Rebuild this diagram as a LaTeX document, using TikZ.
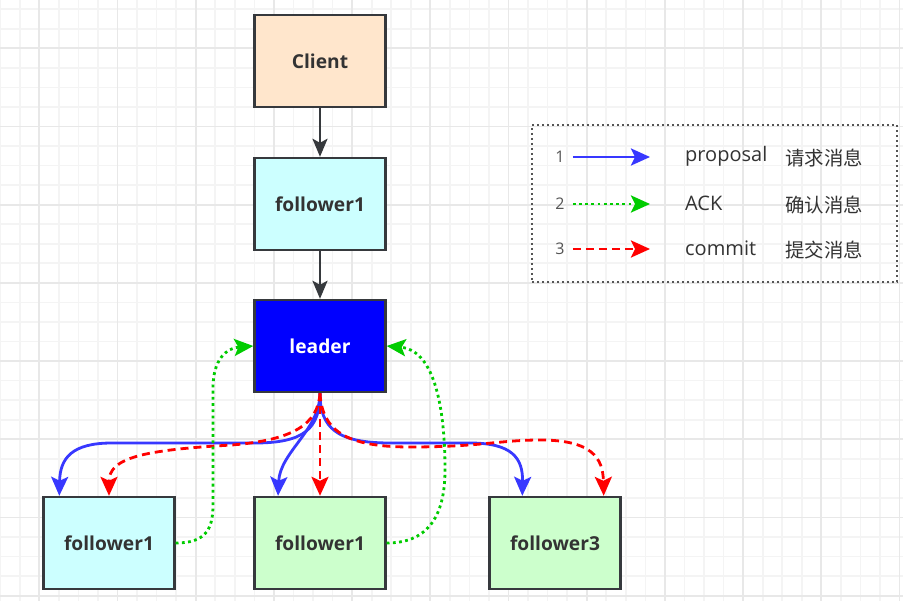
\documentclass[tikz,border=0pt]{standalone}
\usepackage{fontspec}
\setmainfont{Open Sans}
\newfontfamily\cjk{Noto Sans CJK SC}
\usetikzlibrary{arrows.meta}
\definecolor{gridmin}{HTML}{F4F4F4}
\definecolor{gridmaj}{HTML}{E8E8E8}
\definecolor{boxline}{HTML}{36393D}
\definecolor{clientfill}{HTML}{FFE6CC}
\definecolor{cyanfill}{HTML}{CCFFFF}
\definecolor{greenfill}{HTML}{CCFFCC}
\definecolor{propblue}{HTML}{3838FF}
\definecolor{ackgreen}{HTML}{00CC00}
\definecolor{txtgray}{HTML}{333333}
\definecolor{numgray}{HTML}{555555}
\tikzset{
	box/.style={draw=boxline,line width=2.4pt,minimum width=131pt,minimum height=92pt,inner sep=0pt,text=txtgray,font=\fontsize{19.2}{21}\selectfont\bfseries},
	bigtip/.style={-{Stealth[length=19pt,width=17pt,inset=4pt]}},
	flow/.style={draw=boxline,line width=2.4pt,-{Stealth[length=18pt,width=15pt,inset=4pt]}},
	proposal/.style={bigtip,draw=propblue,line width=2.8pt},
	ack/.style={bigtip,draw=ackgreen,line width=2.8pt,dash pattern=on 2.8pt off 3.4pt},
	commit/.style={bigtip,draw=red,line width=2.8pt,dash pattern=on 8pt off 5pt},
	legtext/.style={anchor=west,text=txtgray,inner sep=0pt,font=\fontsize{20}{22}\selectfont},
	legcjk/.style={anchor=west,text=txtgray,inner sep=0pt,font=\fontsize{19.4}{21}\selectfont\cjk},
	legnum/.style={text=numgray,inner sep=0pt,font=\fontsize{16}{18}\selectfont}
}
\begin{document}
\begin{tikzpicture}[x=1pt,y=-1pt]
			\useasboundingbox (0,0) rectangle (903,601);
			% grid
			\fill[white] (0,0) rectangle (903,601);
			\foreach \x in {0.2,19.75,...,903} \draw[gridmin,line width=1.7pt] (\x,0) -- (\x,601);
			\foreach \y in {9.2,28.75,...,601} \draw[gridmin,line width=1.7pt] (0,\y) -- (903,\y);
			\foreach \x in {39.3,117.5,...,903} \draw[gridmaj,line width=1.7pt] (\x,0) -- (\x,601);
			\foreach \y in {48.3,126.5,...,601} \draw[gridmaj,line width=1.7pt] (0,\y) -- (903,\y);
			% boxes
			\node[box,fill=clientfill] (client) at (320,61) {Client};
			\node[box,fill=cyanfill] (fone) at (320,204) {follower1};
			\node[box,fill=blue,text=white] (leader) at (320,346) {leader};
			\node[box,fill=cyanfill] (fleft) at (109,543) {follower1};
			\node[box,fill=greenfill] (fmid) at (320,543) {follower1};
			\node[box,fill=greenfill] (fright) at (555,543) {follower3};
			% request path
			\draw[flow] (client) -- (fone);
			\draw[flow] (fone) -- (leader);
			% proposal
			\draw[proposal] (leader.south) .. controls (320,428) and (305,443) .. (255,443) -- (112,443) .. controls (72,443) and (60,458) .. ([xshift=17pt]fleft.north west);
			\draw[proposal] (leader.south) .. controls (320,430) and (280,452) .. ([xshift=-42pt]fmid.north);
			\draw[proposal] (leader.south) .. controls (320,428) and (337,443) .. (390,443) -- (470,443) .. controls (512,443) and (523,458) .. ([xshift=34pt]fright.north west);
			% commit
			\draw[commit] (leader.south) .. controls (318,425) and (292,440) .. (232,445) .. controls (142,450) and (109,458) .. (fleft.north);
			\draw[commit] (leader.south) -- (fmid.north);
			\draw[commit] (leader.south) .. controls (322,430) and (345,447) .. (410,447) .. controls (480,447) and (500,440) .. (540,440) .. controls (592,440) and (603,458) .. ([xshift=-18pt]fright.north east);
			% ack
			\draw[ack] (fleft.east) .. controls (205,543) and (213,530) .. (213,505) -- (213,388) .. controls (213,360) and (226,348) .. (leader.west);
			\draw[ack] (fmid.east) .. controls (425,543) and (445,520) .. (445,470) .. controls (445,400) and (432,350) .. (leader.east);
			% legend
			\node[draw=numgray,line width=2pt,dash pattern=on 2pt off 3pt,minimum width=365pt,minimum height=157pt,inner sep=0pt] (legend) at (714.5,203.5) {};
			\node[legnum] (n1) at (560,157) {1};
			\node[legnum] (n2) at (560,204) {2};
			\node[legnum] (n3) at (560,249) {3};
			\coordinate (e1) at (650,157);
			\coordinate (e2) at (650,204);
			\coordinate (e3) at (650,249);
			\draw[proposal] ([xshift=8pt]n1.east) -- (e1);
			\draw[ack] ([xshift=8pt]n2.east) -- (e2);
			\draw[commit] ([xshift=8pt]n3.east) -- (e3);
			\node[legtext] (l1) at (685,156) {proposal};
			\node[legtext] (l2) at (685,203) {ACK};
			\node[legtext] (l3) at (685,248) {commit};
			\node[legcjk] (c1) at (785,158) {请求消息};
			\node[legcjk] (c2) at (785,205) {确认消息};
			\node[legcjk] (c3) at (785,250) {提交消息};
		\end{tikzpicture}
\end{document}
